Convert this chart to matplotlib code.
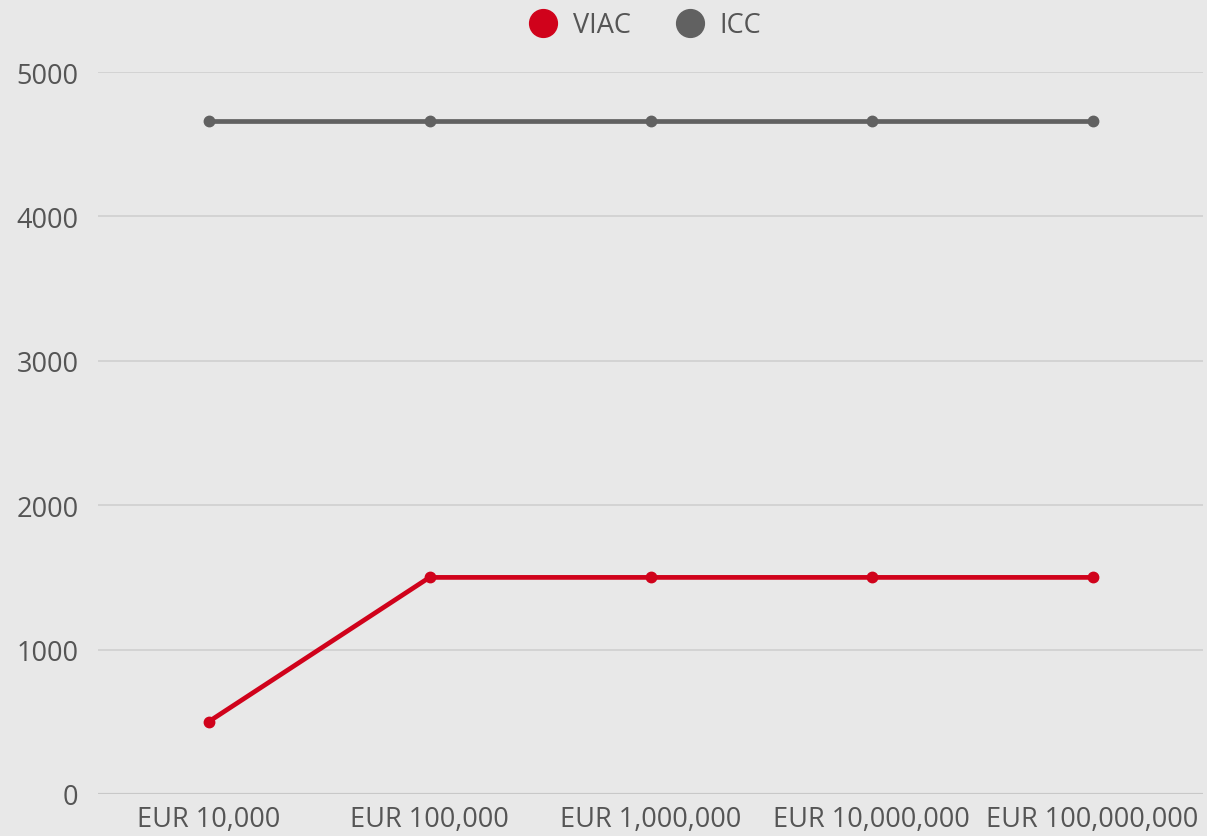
import matplotlib
matplotlib.use("Agg")
import matplotlib.pyplot as plt
from matplotlib.lines import Line2D

plt.rcParams['font.family'] = ['Open Sans', 'DejaVu Sans']

categories = ["EUR 10,000", "EUR 100,000", "EUR 1,000,000", "EUR 10,000,000", "EUR 100,000,000"]
viac = [500, 1500, 1500, 1500, 1500]
icc = [4660, 4660, 4660, 4660, 4660]
yticks = [0, 1000, 2000, 3000, 4000, 5000]

bg = "#e8e8e8"
red = "#d0021b"
grey = "#616161"
txt = "#555555"

fig = plt.figure(figsize=(12.07, 8.37), dpi=100, facecolor=bg)
ax = fig.add_axes([98/1207, 42/837, 1105/1207, 722/837], facecolor=bg)

x = range(len(categories))
ax.plot(x, icc, color=grey, lw=3.4, marker="o", ms=7.5, zorder=3)
ax.plot(x, viac, color=red, lw=3.4, marker="o", ms=7.5, zorder=3)

ax.set_xlim(-0.5, len(categories) - 0.5)
ax.set_ylim(0, 5000)
ax.set_yticks(yticks)
ax.set_xticks(list(x))
ax.set_xticklabels(categories)
ax.grid(axis="y", color="#cfcfcf", lw=1.2, zorder=0)
ax.axhline(0, color="#aaaaaa", lw=1.5, zorder=1)
for s in ax.spines.values():
    s.set_visible(False)
ax.tick_params(length=0, labelsize=19.5, labelcolor=txt)
ax.tick_params(axis="y", pad=14)
ax.tick_params(axis="x", pad=8)

handles = [Line2D([], [], ls="", marker="o", ms=20, color=red),
           Line2D([], [], ls="", marker="o", ms=20, color=grey)]
fig.legend(handles, ["VIAC", "ICC"], loc="center", bbox_to_anchor=(0.5335, 1 - 26/837),
           ncol=2, frameon=False, fontsize=19.5, labelcolor=txt,
           handletextpad=0.5, columnspacing=1.6, handlelength=1.2)

fig.savefig("out.png", dpi=100, facecolor=bg)
